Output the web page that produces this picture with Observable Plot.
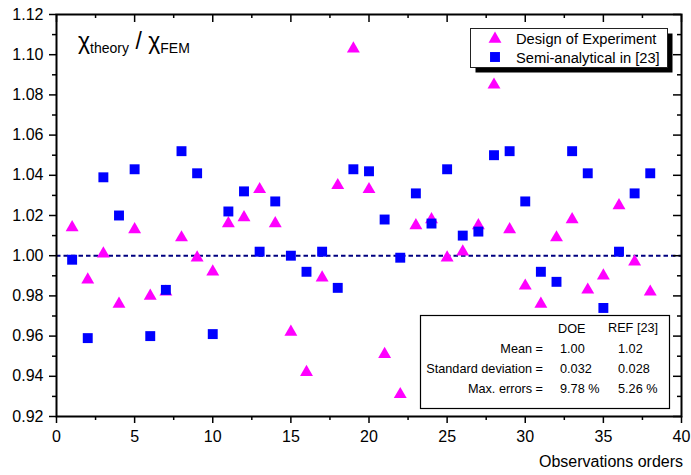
<!DOCTYPE html>
<html><head><meta charset="utf-8">
<script src="https://cdn.jsdelivr.net/npm/d3@7"></script>
<script src="https://cdn.jsdelivr.net/npm/@observablehq/plot@0.6"></script>
<style>
body{margin:0;background:#fff;}
#wrap{position:relative;width:691px;height:475px;}
</style></head><body><div id="wrap"></div>
<script>
// ---- data ----
const orders = [1,2,3,4,5,6,7,8,9,10,11,12,13,14,15,16,17,18,19,20,21,22,23,24,25,26,27,28,29,30,31,32,33,34,35,36,37,38];
const doeValues = [1.014,0.988,1.001,0.976,1.013,0.980,0.982,1.009,0.999,0.992,1.016,1.019,1.033,1.016,0.962,0.942,0.989,1.035,1.103,1.033,0.951,0.931,1.015,1.018,0.999,1.002,1.015,1.085,1.013,0.985,0.976,1.009,1.018,0.983,0.990,1.025,0.997,0.982];
const semiValues = [0.998,0.959,1.039,1.020,1.043,0.960,0.983,1.052,1.041,0.961,1.022,1.032,1.002,1.027,1.000,0.992,1.002,0.984,1.043,1.042,1.018,0.999,1.031,1.016,1.043,1.010,1.012,1.050,1.052,1.027,0.992,0.987,1.052,1.041,0.974,1.002,1.031,1.041];
const seriesNames = ["Design of Experiment","Semi-analytical in [23]"];
const xTicks = [0,5,10,15,20,25,30,35,40];
const xMinor = [2.5,7.5,12.5,17.5,22.5,27.5,32.5,37.5];
const yTicks = [0.92,0.94,0.96,0.98,1.00,1.02,1.04,1.06,1.08,1.10,1.12];
const yMinor = [0.93,0.95,0.97,0.99,1.01,1.03,1.05,1.07,1.09,1.11];
const refLine = [1.0];
const statHeaders = ["DOE","REF [23]"];
const statLabels = ["Mean =","Standard deviation =","Max. errors ="];
const statDOE = ["1.00","0.032","9.78 %"];
const statREF = ["1.02","0.028","5.26 %"];
const xLabel = "Observations orders";

const doeData = orders.map((o,i)=>({order:o, value:doeValues[i]}));
const semiData = orders.map((o,i)=>({order:o, value:semiValues[i]}));

const W=691,H=475,mL=56,mR=10,mT=14,mB=59;
const pW=W-mL-mR, pH=H-mT-mB;
const FONT = "'Liberation Sans', Arial, sans-serif";

const chart = Plot.plot({
  width:W, height:H, marginLeft:mL, marginRight:mR, marginTop:mT, marginBottom:mB,
  style:{fontFamily:FONT, fontSize:"16px", color:"#000", background:"#fff", overflow:"visible"},
  x:{domain:[0,40]},
  y:{domain:[0.92,1.12]},
  marks:[
    Plot.ruleY(refLine, {stroke:"#000080", strokeWidth:2, strokeDasharray:"4.5,3"}),
    Plot.dot(doeData, {x:"order", y:"value", symbol:"triangle", r:4.8, fill:"#ff00ff", stroke:"none"}),
    Plot.dot(semiData, {x:"order", y:"value", symbol:"square", r:5.6, fill:"#0000ff", stroke:"none"}),
    Plot.axisX({ticks:xTicks, tickSize:7, tickPadding:7, fontSize:16, label:null, tickFormat:d=>String(d), strokeWidth:1.5}),
    Plot.axisX({ticks:xMinor, tickSize:4, tickFormat:()=> "", label:null, strokeWidth:1.5}),
    Plot.axisY({ticks:yTicks, tickSize:7, tickPadding:6, fontSize:16, label:null, tickFormat:d3.format(".2f"), strokeWidth:1.5}),
    Plot.axisY({ticks:yMinor, tickSize:4, tickFormat:()=> "", label:null, strokeWidth:1.5}),
    Plot.tickY(yTicks, {y:d=>d, insetLeft:pW-8, strokeWidth:1.5}),
    Plot.tickY(yMinor, {y:d=>d, insetLeft:pW-4, strokeWidth:1.5}),
    Plot.tickX(xTicks, {x:d=>d, insetBottom:pH-8, strokeWidth:1.5}),
    Plot.tickX(xMinor, {x:d=>d, insetBottom:pH-4, strokeWidth:1.5}),
    Plot.frame({stroke:"#000", strokeWidth:2})
  ]
});
document.getElementById("wrap").appendChild(chart);

// ---- annotations ----
const svg = d3.select(chart);
const g = svg.append("g").attr("font-family", FONT).attr("fill","#000").attr("text-anchor","start");

// axis title
g.append("text").attr("x",683).attr("y",467).attr("text-anchor","end").attr("font-size",16).text(xLabel);

// chart label chi_theory / chi_FEM
const t = g.append("text").attr("x",78).attr("y",49).attr("font-size",23);
t.append("tspan").text("χ");
t.append("tspan").attr("font-size",14).attr("dy",4).text("theory");
t.append("tspan").attr("dy",-4).text(" / χ");
t.append("tspan").attr("font-size",14).attr("dy",4).text("FEM");

// legend
const lg = g.append("g");
lg.append("rect").attr("x",475.5).attr("y",33.5).attr("width",197).attr("height",39).attr("fill","#000");
lg.append("rect").attr("x",470.5).attr("y",28.5).attr("width",197).attr("height",39).attr("fill","#fff").attr("stroke","#222").attr("stroke-width",1);
const triSize = Math.PI*4.8*4.8, sqSize = Math.PI*5.6*5.6;
lg.append("path").attr("d", d3.symbol(d3.symbolTriangle, triSize)()).attr("transform","translate(495,39)").attr("fill","#ff00ff");
lg.append("path").attr("d", d3.symbol(d3.symbolSquare, sqSize)()).attr("transform","translate(495,57)").attr("fill","#0000ff");
lg.append("text").attr("x",516).attr("y",44).attr("font-size",14.7).text(seriesNames[0]);
lg.append("text").attr("x",516).attr("y",62.5).attr("font-size",14.7).text(seriesNames[1]);

// statistics box
const sb = g.append("g").attr("font-size",12.7);
sb.append("rect").attr("x",420.5).attr("y",315.5).attr("width",249).attr("height",93).attr("fill","#fff").attr("stroke","#000").attr("stroke-width",1.2);
sb.append("text").attr("x",558).attr("y",333).text(statHeaders[0]);
sb.append("text").attr("x",608).attr("y",332).text(statHeaders[1]);
const rowY = [352.5,372.7,392.7];
statLabels.forEach((s,i)=>{
  sb.append("text").attr("x",543).attr("y",rowY[i]).attr("text-anchor","end").text(s);
  sb.append("text").attr("x",560).attr("y",rowY[i]).text(statDOE[i]);
  sb.append("text").attr("x",618).attr("y",rowY[i]).text(statREF[i]);
});
</script></body></html>
